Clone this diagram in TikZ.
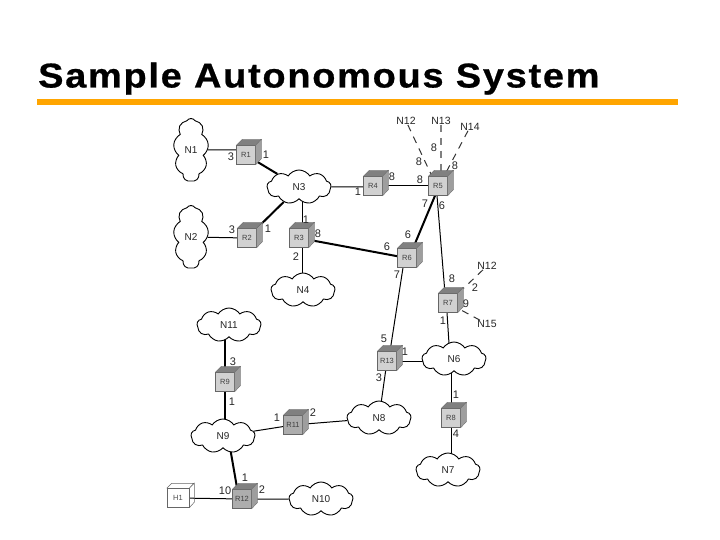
\documentclass[tikz,border=0pt]{standalone}
\usepackage{fontspec}
\setmainfont{Liberation Sans}
\newfontfamily\titlefont[UprightFont={* Bold},FakeStretch=1.1,LetterSpace=5,FakeBold=0.7]{Liberation Sans}
\usetikzlibrary{shapes.symbols}
\pgfdeclarelayer{back}
\pgfsetlayers{back,main}
\definecolor{barorange}{HTML}{FFA500}
\tikzset{
  net/.style={cloud,cloud puffs=#1,cloud puff arc=115,cloud ignores aspect,draw=black,fill=white,line width=.9pt,inner sep=0pt,font=\fontsize{10}{11}\selectfont,text=black!85},
  net/.default=9,
  routerface/.style={draw=black!60,line width=.4pt,fill=#1,minimum width=19pt,minimum height=19pt,inner sep=0pt,font=\fontsize{7.5}{8}\selectfont,text=black!75},
  routerface/.default=black!18,
  lbl/.style={font=\fontsize{11}{12}\selectfont,text=black!85,inner sep=0pt},
  netname/.style={font=\fontsize{10.5}{12}\selectfont,text=black!85,inner sep=0pt},
  thin link/.style={line width=1pt,black},
  thick link/.style={line width=2pt,black},
  dash link/.style={line width=1pt,black!80,dash pattern=on 7pt off 6pt},
}
\newcommand{\routerbox}[5][black!18]{%
  \node[routerface=#1] (#2) at (#3,#4) {#5};
  \fill[black!50,draw=black!60,line width=.3pt] (#2.north west) -- ++(6,-6) -- ++(19,0) -- (#2.north east) -- cycle;
  \fill[black!38,draw=black!60,line width=.3pt] (#2.north east) -- ++(6,-6) -- ++(0,19) -- (#2.south east) -- cycle;
}
\begin{document}
\begin{tikzpicture}[x=1pt,y=-1pt]
\useasboundingbox (0,0) rectangle (720,540);
\node[anchor=base west,inner sep=0pt] (title) at (38,87.5) {\titlefont\fontsize{34.5}{40}\selectfont Sample Autonomous System};
\fill[barorange] (37,99) rectangle (678,105);

% clouds
\node[net=9,minimum width=35pt,minimum height=63pt] (N1) at (191,150) {N1};
\node[net=9,minimum width=35pt,minimum height=63pt] (N2) at (191,237) {N2};
\node[net,minimum width=64pt,minimum height=34pt] (N3) at (299,187) {N3};
\node[net,minimum width=64pt,minimum height=34pt] (N4) at (303,290) {N4};
\node[net,minimum width=64pt,minimum height=34pt] (N11) at (229,325) {N11};
\node[net,minimum width=64pt,minimum height=34pt] (N6) at (454,359) {N6};
\node[net,minimum width=64pt,minimum height=34pt] (N8) at (379,418) {N8};
\node[net,minimum width=64pt,minimum height=34pt] (N9) at (223,436) {N9};
\node[net,minimum width=64pt,minimum height=34pt] (N10) at (321,499) {N10};
\node[net,minimum width=64pt,minimum height=34pt] (N7) at (448,470) {N7};

% routers
\routerbox{R1}{246}{155}{R1}
\routerbox{R2}{247}{238}{R2}
\routerbox{R3}{299}{238}{R3}
\routerbox{R4}{373}{186}{R4}
\routerbox{R5}{438}{186}{R5}
\routerbox{R6}{407}{258}{R6}
\routerbox{R7}{448}{303}{R7}
\routerbox{R13}{387}{361}{R13}
\routerbox{R8}{451}{418}{R8}
\routerbox{R9}{225}{382}{R9}
\routerbox[black!32]{R11}{293}{425}{R11}
\routerbox[black!32]{R12}{242}{499}{R12}

% host
\node[draw=black!60,line width=.5pt,fill=white,minimum width=22pt,minimum height=19pt,inner sep=0pt,font=\fontsize{7.5}{8}\selectfont,text=black!70] (H1) at (178,498) {H1};
\draw[black!60,line width=.5pt] (H1.north west) -- ++(5,-5) -- ++(22,0) -- (H1.north east) (H1.north east) -- ++(5,-5) -- ++(0,19) -- (H1.south east);

% external networks
\node[netname] (e12) at (406,121) {N12};
\node[netname] (e13) at (441,121) {N13};
\node[netname] (e14) at (470,127) {N14};
\node[netname] (f12) at (487,266) {N12};
\node[netname] (e15) at (487,324) {N15};

% labels
\foreach \t/\x/\y [count=\i] in {3/231/157,1/266/155,3/232/230,1/268/229,1/306/220,8/318/234,2/296/257,
  1/358/192,8/392/177,8/420/180,8/419/162,8/434/148,8/455/166,7/425/204,6/442/206,
  6/408/235,6/387/247,7/397/275,8/452/279,2/475/288,9/466/304,1/443/321,
  5/384/339,1/405/352,3/379/378,1/456/395,4/456/434,3/233/362,1/232/402,
  1/277/418,2/313/413,1/245/478,10/225/491,2/262/490}
  \node[lbl] (lab\i) at (\x,\y) {\t};

\begin{pgfonlayer}{back}
  \draw[thin link] (N1) -- (N1 -| R1);
  \draw[thin link] (N2) -- (R2);
  \draw[thick link] (R1) -- (N3);
  \draw[thick link] (R2) -- (N3);
  \draw[thin link] ([xshift=3pt]N3.center) -- ([xshift=3pt]R3.center);
  \draw[thin link] (N3) -- (N3 -| R4);
  \draw[thin link] (R4) -- (R5);
  \draw[thick link] (R3) -- (R6);
  \draw[thin link] ([xshift=3pt]R3.center) -- ([xshift=3pt]R3.center |- N4);
  \draw[thick link] ([xshift=-3pt]R5.south) -- ([xshift=6pt]R6.north);
  \draw[thin link] ([xshift=-1pt]R5.south) -- ([xshift=-3pt]R7.north);
  \draw[thin link] ([xshift=-4pt]R6.south) -- ([xshift=3pt]R13.north);
  \draw[thin link] ([xshift=-1pt]R7.south) -- ([xshift=-4pt]N6.center);
  \draw[thin link] (R13) -- (R13 -| N6);
  \draw[thin link] (R13) -- (N8);
  \draw[thin link] (R8 |- N6) -- (R8);
  \draw[thin link] (R8) -- (R8 |- N7);
  \draw[thick link] (R9) -- (R9 |- N11);
  \draw[thick link] (R9) -- (R9 |- N9);
  \draw[thin link] (N9) -- (R11);
  \draw[thin link] (R11) -- (N8);
  \draw[thick link] ([xshift=5pt]N9.center) -- ([xshift=-3pt]R12.center);
  \draw[thin link] (H1) -- (R12);
  \draw[thin link] (R12) -- (N10);
  \draw[dash link] (e12) -- ([xshift=-6pt]R5.north);
  \draw[dash link,black!50,line width=1.6pt] (e13) -- (e13 |- R5.north);
  \draw[dash link] (e14) -- ([xshift=6pt]R5.north);
  \draw[dash link] (f12) -- (R7);
  \draw[dash link] (e15) -- (R7);
\end{pgfonlayer}
\end{tikzpicture}
\end{document}
